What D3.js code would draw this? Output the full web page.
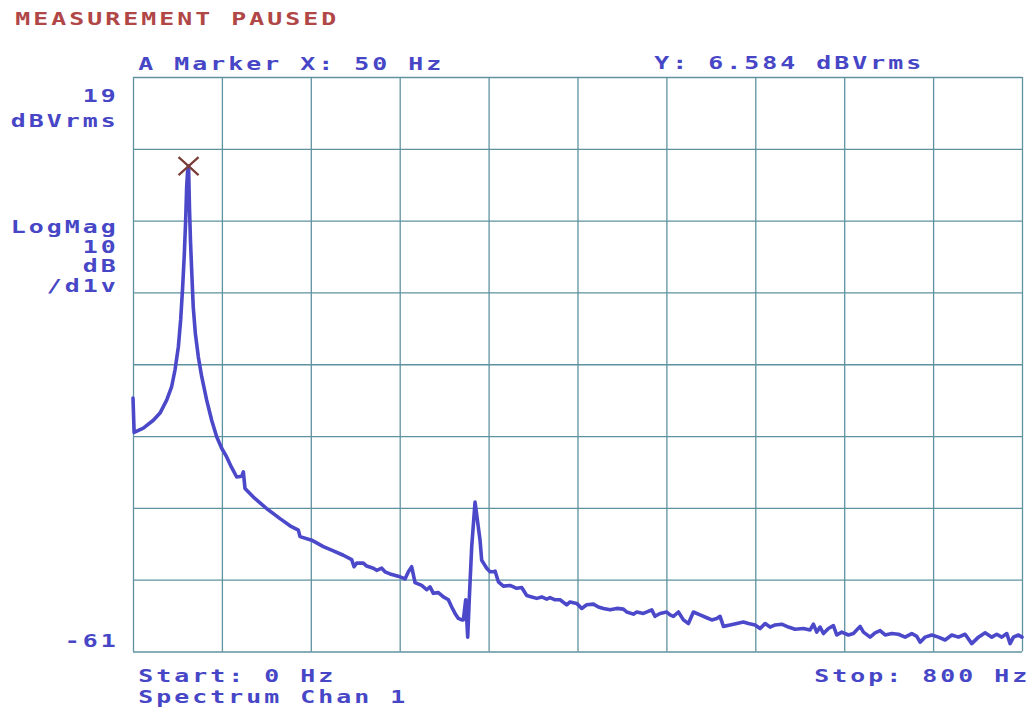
<!DOCTYPE html>
<html>
<head>
<meta charset="utf-8">
<script src="https://cdn.jsdelivr.net/npm/d3@7"></script>
<style>
  body { margin: 0; background: #fff; }
  text { font-family: "DejaVu Sans Mono", monospace; font-weight: bold; font-size: 17.5px; }
</style>
</head>
<body>
<div id="chart"></div>
<script>
// spectrum trace (Hz, dBVrms)
var freqHz = [0, 1, 9.3, 18.3, 24.3, 30.3, 34.8, 37.8, 40.8, 42.9, 44.7, 46.2, 47.4, 48.3, 49.1, 50,
  50.8, 51.7, 52.9, 54.2, 56.1, 58.8, 61.8, 66.3, 70.8, 75.3, 79.8, 84.3, 88.5, 93.3, 97.8, 99.3, 100.8,
  108.3, 120.3, 132.3, 141.3, 148.8, 150.3, 160.8,
  171.3, 180.3, 189.3, 196.8, 198.9, 201.3, 207.3, 210.3, 216.3, 219.3, 223.8, 226.8, 231.3, 240.3,
  244.8, 247.8, 250.8, 253.8, 259.8, 264.3, 267.3, 270.3, 274.8, 279.3, 283.8, 286.8, 289.8, 292.8,
  295.8, 297.3, 299.4, 301.2, 302.7, 304.8, 307.8, 312.3, 313.8, 318.3, 321.3, 324.3, 325.8, 328.8,
  333.3, 339.3, 345.3, 349.8, 354.3, 358.8, 363.3, 367.8, 372.3, 375.3, 379.8, 384.3, 390.3, 393.3,
  399.3, 403.8, 408.3, 414.3, 418.8, 423.3, 429.3, 435.3, 441.3, 444.3, 450.3, 453.3, 459.3, 466.8,
  469.8, 474.3, 480.3, 483.3, 486.3, 490.8, 495.3, 499.8, 504.3, 510.3, 516.3, 520.8, 525.3, 528.3,
  531.3, 537.3, 543.3, 549.3, 553.8, 559.8, 564.3, 568.8, 573.3, 577.8, 583.8, 589.8, 595.8, 603.3,
  609.3, 612.3, 615.3, 618.3, 621.3, 625.8, 630.3, 633.3, 637.8, 643.8, 648.3, 654.3, 657.3, 663.3,
  667.8, 672.3, 676.8, 682.8, 688.8, 694.8, 700.8, 705.3, 708.3, 712.8, 718.8, 724.8, 730.8, 736.8,
  742.8, 748.8, 754.8, 760.8, 766.8, 772.8, 777.3, 781.8, 786.3, 789.3, 792.3, 796.8, 800];

var magDb = [-25.7, -30.5, -29.9, -28.8, -27.8, -26.0, -24.1, -21.8, -18.6, -14.8, -10.2, -5.6, -0.9, 3.7, 5.8, 6.584,
  0.9, -3.7, -8.3, -13.0, -16.7, -20.0, -22.7, -26.0, -28.8, -31.1, -32.7, -33.9, -35.3, -36.7, -36.6, -36.0, -38.3,
  -39.5, -41.1, -42.5, -43.5, -44.1, -45.0, -45.5,
  -46.4, -47.0, -47.6, -48.2, -49.2, -48.7, -48.7, -49.1, -49.4, -49.7, -49.4, -49.9, -50.2, -50.6,
  -50.9, -49.9, -49.2, -51.4, -51.8, -52.4, -52.0, -52.9, -52.8, -53.4, -53.8, -54.8, -55.7, -56.4,
  -56.6, -56.6, -53.8, -59.0, -53.4, -46.4, -40.2, -45.5, -48.3, -49.4, -49.9, -49.9, -49.8, -51.3,
  -51.9, -51.8, -52.2, -52.1, -53.2, -53.4, -53.6, -53.4, -53.7, -53.5, -53.8, -53.8, -54.5, -54.1,
  -54.3, -55.0, -54.5, -54.4, -54.8, -55.0, -55.2, -55.0, -55.1, -55.5, -55.8, -55.5, -55.7, -55.2,
  -56.1, -55.7, -55.5, -55.9, -56.1, -55.5, -56.6, -57.1, -55.5, -55.9, -56.3, -56.6, -56.4, -56.1,
  -57.5, -57.3, -57.1, -56.9, -57.1, -57.3, -57.8, -57.1, -57.6, -57.3, -57.2, -57.6, -57.9, -57.8,
  -58.0, -57.2, -58.3, -57.6, -58.5, -57.8, -57.4, -58.7, -58.3, -58.7, -58.5, -57.5, -58.3, -59.0,
  -58.4, -58.1, -58.7, -58.5, -58.6, -59.0, -58.5, -58.9, -59.7, -59.0, -58.7, -59.0, -59.4, -58.7,
  -59.0, -58.6, -59.9, -59.0, -58.4, -59.0, -58.6, -59.0, -58.5, -59.9, -59.0, -58.7, -59.0];

var xGridTicks = [0, 80, 160, 240, 320, 400, 480, 560, 640, 720, 800];
var yGridTicks = [-61, -51, -41, -31, -21, -11, -1, 9, 19];

var markerX = 50;
var markerY = 6.584;

var titleText = "MEASUREMENT PAUSED";
var headerLeft = "A Marker X: 50 Hz";
var headerRight = "Y: 6.584 dBVrms";
var yTopLabel = ["19", "dBVrms"];
var yMidLabel = ["LogMag", "10", "dB", "/d1v"];
var yBottomLabel = "-61";
var footLeft = ["Start: 0 Hz", "Spectrum Chan 1"];
var footRight = "Stop: 800 Hz";

var svgWidth = 1029;
var svgHeight = 713;

var plot = { left: 133, right: 1022, top: 77, bottom: 651.5 };
var cell = 18;      // plotter font uses fixed character cells
var stretch = 1.42; // plotter glyphs are wider than DejaVu Mono's

var blue = "#4646c6";
var gridColor = "#5f92a0";

var svg = d3.select("#chart")
  .append("svg")
  .attr("width", svgWidth)
  .attr("height", svgHeight);

var x = d3.scaleLinear().domain([0, 800]).range([plot.left, plot.right]);
var y = d3.scaleLinear().domain([-61, 19]).range([plot.bottom, plot.top]);

// grid from axes with full-length ticks
svg.append("g")
  .attr("transform", `translate(0, ${plot.bottom})`)
  .call(d3.axisBottom(x).tickValues(xGridTicks).tickSize(-(plot.bottom - plot.top)).tickFormat(""));
svg.append("g")
  .attr("transform", `translate(${plot.left}, 0)`)
  .call(d3.axisLeft(y).tickValues(yGridTicks).tickSize(-(plot.right - plot.left)).tickFormat(""));

svg.selectAll(".domain").remove();
svg.selectAll(".tick line")
  .attr("stroke", gridColor)
  .attr("stroke-width", 1.3);

// trace
var trace = freqHz.map((f, i) => [f, magDb[i]]);
var line = d3.line()
  .x(d => x(d[0]))
  .y(d => y(d[1]));

svg.append("path")
  .datum(trace)
  .attr("fill", "none")
  .attr("stroke", "#4b49c9")
  .attr("stroke-width", 3.6)
  .attr("stroke-linejoin", "round")
  .attr("stroke-linecap", "round")
  .attr("d", line);

// marker cross
var mx = x(markerX), my = y(markerY);
svg.append("path")
  .attr("d", `M${mx - 10},${my - 9}L${mx + 10},${my + 9}M${mx - 10},${my + 9}L${mx + 10},${my - 9}`)
  .attr("stroke", "#7a3c36")
  .attr("stroke-width", 2.2)
  .attr("fill", "none");

// plotter-style text: each glyph centred in its own cell, stretched sideways
function plotText(str, x0, baseline, color) {
  var xs = [];
  for (var i = 0; i < str.length; i++) xs.push((x0 + 6.8 + i * cell) / stretch);
  svg.append("text")
    .attr("transform", `scale(${stretch}, 1)`)
    .attr("x", xs.join(" "))
    .attr("y", baseline)
    .attr("text-anchor", "middle")
    .attr("fill", color || blue)
    .text(str);
}

function plotTextRight(str, xRight, baseline) {
  plotText(str, xRight - (str.length - 1) * cell - 13.6, baseline);
}

plotText(titleText, 16, 25, "#b04646");
plotText(headerLeft, 139, 70);
plotText(headerRight, 655, 69);

var topBase = [101.7, 126.7];
yTopLabel.forEach((s, i) => plotTextRight(s, 115, topBase[i]));
var midBase = [233.3, 253.3, 272.3, 291.7];
yMidLabel.forEach((s, i) => plotTextRight(s, 115, midBase[i]));
plotTextRight(yBottomLabel, 115, 646.7);

plotText(footLeft[0], 139, 681.7);
plotText(footLeft[1], 139, 703.3);
plotText(footRight, 815, 681.7);
</script>
</body>
</html>
